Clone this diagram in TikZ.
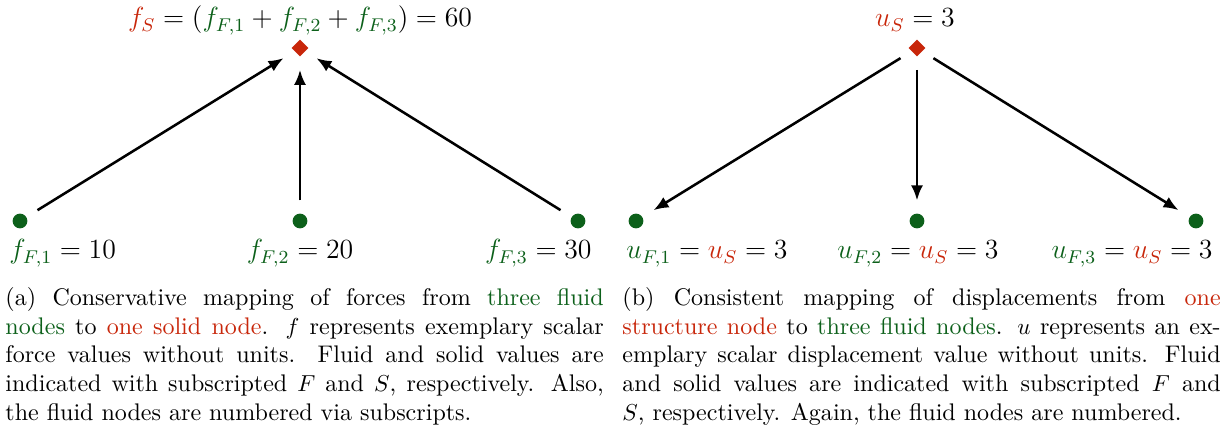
\documentclass[tikz,border=0pt]{standalone}
\usetikzlibrary{shapes.geometric,arrows.meta}
\definecolor{solidred}{RGB}{200,38,10}
\definecolor{fluidgreen}{RGB}{12,96,26}
\newcommand\greenc[1]{\textcolor{fluidgreen}{#1}}
\newcommand\redc[1]{\textcolor{solidred}{#1}}
\begin{document}
\begin{tikzpicture}[x=0.4329pt,y=-0.4329pt,
 solidnode/.style={diamond,fill=solidred,inner sep=0pt,minimum width=7.5pt,minimum height=7.5pt},
 fluidnode/.style={circle,fill=fluidgreen,inner sep=0pt,minimum size=6.4pt},
 maplabel/.style={font=\large,inner sep=0pt},
 arr/.style={-{Latex[length=6.5pt,width=5.2pt]},line width=1.1pt,shorten <=5.5pt,shorten >=5.5pt},
 capt/.style={text width=259pt,align=justify,inner sep=0pt,anchor=north west,font=\fontsize{10.4}{12.45}\selectfont}]
\useasboundingbox (0,0) rectangle (1222,427);
% (a)
\node[solidnode] (sa) at (300,48) {};
\node[fluidnode] (fa1) at (20,221) {};
\node[fluidnode] (fa2) at (300,221) {};
\node[fluidnode] (fa3) at (578,221) {};
\node[maplabel,anchor=base] (lsa) at (300,27) {$\redc{f_S} = (\greenc{f_{F,1}} + \greenc{f_{F,2}} + \greenc{f_{F,3}}) = 60$};
\node[maplabel,anchor=base west] (lfa1) at (9,259) {$\greenc{f_{F,1}} = 10$};
\node[maplabel,anchor=base] (lfa2) at (300,259) {$\greenc{f_{F,2}} = 20$};
\node[maplabel,anchor=base east] (lfa3) at (592,259) {$\greenc{f_{F,3}} = 30$};
\draw[arr] (fa1) -- (sa);
\draw[arr] (fa2) -- (sa);
\draw[arr] (fa3) -- (sa);
\node[capt] (capa) at (5,287) {(a) Conservative mapping of forces from \greenc{three fluid}\linebreak \greenc{nodes} to \redc{one solid node}. $f$ represents exemplary scalar\linebreak force values without units. Fluid and solid values are\linebreak indicated with subscripted $F$ and $S$, respectively. Also,\linebreak the fluid nodes are numbered via subscripts.};
% (b)
\node[solidnode] (sb) at (917,48) {};
\node[fluidnode] (fb1) at (636,221) {};
\node[fluidnode] (fb2) at (917,221) {};
\node[fluidnode] (fb3) at (1196,221) {};
\node[maplabel,anchor=base] (lsb) at (915,27) {$\redc{u_S} = 3$};
\node[maplabel,anchor=base west] (lfb1) at (626,259) {$\greenc{u_{F,1}} = \redc{u_S} = 3$};
\node[maplabel,anchor=base] (lfb2) at (918,259) {$\greenc{u_{F,2}} = \redc{u_S} = 3$};
\node[maplabel,anchor=base east] (lfb3) at (1213,259) {$\greenc{u_{F,3}} = \redc{u_S} = 3$};
\draw[arr] (sb) -- (fb1);
\draw[arr] (sb) -- (fb2);
\draw[arr] (sb) -- (fb3);
\node[capt] (capb) at (622,287) {(b) Consistent mapping of displacements from \redc{one}\linebreak \redc{structure node} to \greenc{three fluid nodes}. $u$ represents an ex-\linebreak emplary scalar displacement value without units. Fluid\linebreak and solid values are indicated with subscripted $F$ and\linebreak $S$, respectively. Again, the fluid nodes are numbered.};
\end{tikzpicture}
\end{document}
